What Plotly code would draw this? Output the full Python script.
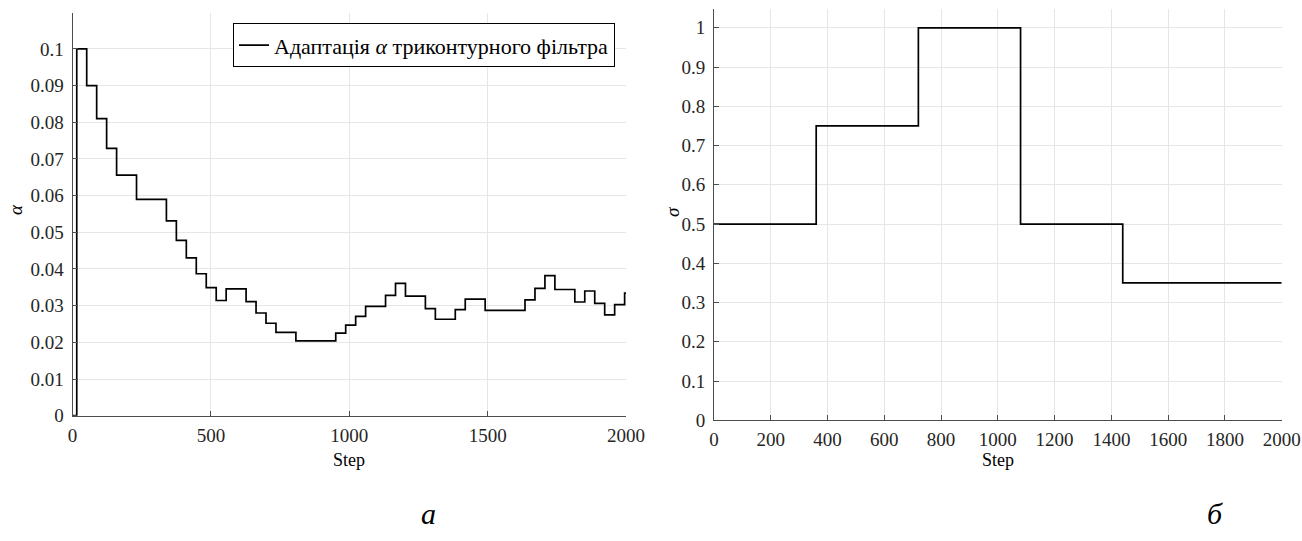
import plotly.graph_objects as go

# ---- data ----
alpha_steps = [0, 15, 51, 87, 123, 159, 231, 339, 375, 411, 447, 483, 519, 555, 627, 663, 699,
               735, 807, 951, 987, 1023, 1059, 1131, 1167, 1203, 1275, 1311, 1383, 1419, 1491,
               1635, 1671, 1707, 1743, 1815, 1851, 1887, 1923, 1959, 1995, 2000]
alpha_values = [0, 0.1, 0.09, 0.081, 0.0729, 0.0656, 0.059, 0.0531, 0.0478, 0.043, 0.0387,
                0.0349, 0.0314, 0.0346, 0.0311, 0.028, 0.0252, 0.0227, 0.0204, 0.0225, 0.0247,
                0.0271, 0.0298, 0.0328, 0.0361, 0.0326, 0.0292, 0.0263, 0.0289, 0.0318, 0.0287,
                0.0316, 0.0347, 0.0382, 0.0344, 0.0310, 0.034, 0.0306, 0.0275, 0.0303, 0.0334, 0.0334]

sigma_steps = [0, 360, 720, 1080, 1440, 2000]
sigma_values = [0.5, 0.75, 1.0, 0.5, 0.35, 0.35]

left_xticks = [0, 500, 1000, 1500, 2000]
left_yticks = [0, 0.01, 0.02, 0.03, 0.04, 0.05, 0.06, 0.07, 0.08, 0.09, 0.1]
left_yticklabels = ["0", "0.01", "0.02", "0.03", "0.04", "0.05", "0.06", "0.07", "0.08", "0.09", "0.1"]
right_xticks = [0, 200, 400, 600, 800, 1000, 1200, 1400, 1600, 1800, 2000]
right_yticks = [0, 0.1, 0.2, 0.3, 0.4, 0.5, 0.6, 0.7, 0.8, 0.9, 1.0]
right_yticklabels = ["0", "0.1", "0.2", "0.3", "0.4", "0.5", "0.6", "0.7", "0.8", "0.9", "1"]

legend_label = "Адаптація <i>α</i> триконтурного фільтра"

OFF = 0  # body margin removed by post_script
W, H = 1302, 541
ML, MR, MT, MB = 62, 5, 0, 100
SERIF = "Liberation Serif"
AX = "#4d4d4d"
GRID = "#e6e6e6"

fig = go.Figure()
fig.add_trace(go.Scatter(x=alpha_steps, y=alpha_values, mode="lines", name=legend_label,
                         line=dict(color="black", width=1.7, shape="hv"),
                         xaxis="x", yaxis="y", showlegend=True))
fig.add_trace(go.Scatter(x=sigma_steps, y=sigma_values, mode="lines",
                         line=dict(color="black", width=1.7, shape="hv"),
                         xaxis="x2", yaxis="y2", showlegend=False))

common = dict(showline=True, linecolor=AX, linewidth=1, ticks="inside", ticklen=5,
              tickcolor=AX, tickwidth=1, showgrid=True, gridcolor=GRID, gridwidth=1,
              zeroline=False, mirror=False, automargin=False,
              tickfont=dict(family=SERIF, size=19, color="#262626"))

# screen pixel (reference coords) -> fraction of the plot area
def px(x):
    return (x - OFF - ML) / (W - ML - MR)

def py(y):
    return (H - MB - (y - OFF)) / (H - MT - MB)

fig.update_layout(
    width=W, height=H,
    margin=dict(l=ML, r=MR, t=MT, b=MB, autoexpand=False),
    paper_bgcolor="white", plot_bgcolor="white",
    xaxis=dict(domain=[px(72.6), px(626)], anchor="y", range=[0, 2000],
               tickvals=left_xticks, ticklabelstandoff=2, **common),
    yaxis=dict(domain=[py(415.7), py(13.3)], anchor="x", range=[0, 0.1097],
               tickvals=left_yticks, ticktext=left_yticklabels, ticklabelstandoff=4, **common),
    xaxis2=dict(domain=[px(714), px(1281.7)], anchor="y2", range=[0, 2000],
                tickvals=right_xticks, ticklabelstandoff=2, **common),
    yaxis2=dict(domain=[py(420.3), py(9)], anchor="x2", range=[0, 1.048],
                tickvals=right_yticks, ticktext=right_yticklabels, ticklabelstandoff=4, **common),
    legend=dict(x=px(615), y=py(23.3), xanchor="right", yanchor="top",
                bgcolor="white", bordercolor="black", borderwidth=1,
                font=dict(family=SERIF, size=22, color="black"),
                itemwidth=30, tracegroupgap=0),
    showlegend=True,
)

ann = [
    dict(text="Step", x=349.3, y=460, size=18, angle=0),
    dict(text="Step", x=997.8, y=460, size=18, angle=0),
    dict(text="<i>α</i>", x=15, y=210, size=19, angle=-90),
    dict(text="<i>σ</i>", x=672, y=212, size=19, angle=-90),
    dict(text="<i>а</i>", x=428, y=513, size=30, angle=0),
    dict(text="<i>б</i>", x=1215, y=513, size=30, angle=0),
]
for a in ann:
    fig.add_annotation(text=a["text"], x=px(a["x"]), y=py(a["y"]), xref="paper", yref="paper",
                       xanchor="center", yanchor="middle", showarrow=False,
                       textangle=a["angle"],
                       font=dict(family=SERIF, size=a["size"], color="black"))

fig.write_html("out.html", config={"displayModeBar": False},
               post_script="document.body.style.margin='0';document.body.style.overflow='hidden';")
